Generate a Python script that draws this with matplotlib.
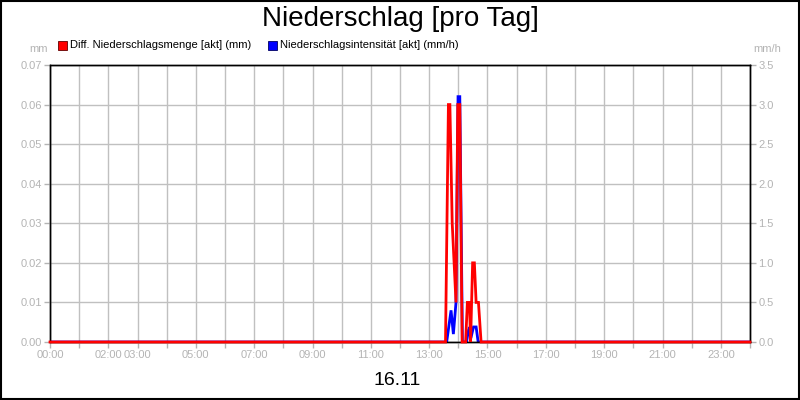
import matplotlib
matplotlib.use("Agg")
import matplotlib.pyplot as plt
from matplotlib.patches import Rectangle
import numpy as np

plt.rcParams['font.family'] = ['Liberation Sans', 'DejaVu Sans']

# Data (time in hours of day)
red_t = [0.0, 13.56, 13.66, 13.71, 13.79, 13.92, 13.98, 14.05, 14.13, 14.25, 14.31, 14.38,
         14.42, 14.49, 14.55, 14.61, 14.69, 14.78, 24.0]
red_v = [0.0, 0.0, 0.06, 0.06, 0.03, 0.01, 0.06, 0.06, 0.0, 0.0, 0.01, 0.01,
         0.0, 0.02, 0.02, 0.01, 0.01, 0.0, 0.0]

blue_t = [0.0, 13.60, 13.75, 13.83, 13.92, 13.99, 14.05, 14.14, 14.28, 14.35, 14.40,
          14.43, 14.52, 14.61, 14.68, 24.0]
blue_v = [0.0, 0.0, 0.4, 0.1, 0.5, 3.1, 3.1, 0.0, 0.0, 0.15, 0.19,
          0.05, 0.19, 0.19, 0.0, 0.0]

tick_hours = list(range(0, 25))
tick_labels = {0: "00:00", 2: "02:00", 3: "03:00", 5: "05:00", 7: "07:00", 9: "09:00",
               11: "11:00", 13: "13:00", 15: "15:00", 17: "17:00", 19: "19:00",
               21: "21:00", 23: "23:00"}
left_ticks = [0.00, 0.01, 0.02, 0.03, 0.04, 0.05, 0.06, 0.07]
right_ticks = [0.0, 0.5, 1.0, 1.5, 2.0, 2.5, 3.0, 3.5]

title = "Niederschlag [pro Tag]"
legend_red = "Diff. Niederschlagsmenge [akt] (mm)"
legend_blue = "Niederschlagsintensität [akt] (mm/h)"
date_label = "16.11"

GRAY = "#b4b4b4"
GRID = "#c0c0c0"

fig = plt.figure(figsize=(8, 4), dpi=100)
fig.patch.set_facecolor("white")
ax = fig.add_axes([0.0625, 0.145, 0.875, 0.6925])
ax2 = ax.twinx()
ax.set_zorder(ax2.get_zorder() + 1)
ax.patch.set_visible(False)

# grid + blue line on lower axes
ax2.set_xlim(0, 24)
ax2.set_ylim(0, 3.5)
ax2.set_yticks(right_ticks)
ax2.grid(True, axis='y', color=GRID, linewidth=1)
ax2.set_axisbelow(True)
for h in tick_hours:
    ax2.axvline(h, color=GRID, linewidth=1, zorder=0.5)
ax2.plot(blue_t, blue_v, color="#0000ff", linewidth=2, solid_joinstyle="miter")

ax.set_xlim(0, 24)
ax.set_ylim(0, 0.07)
ax.set_xticks(tick_hours)
ax.plot(red_t, red_v, color="#ff0000", linewidth=2, solid_joinstyle="miter",
        clip_on=False, zorder=3)

ax.set_xticklabels([tick_labels.get(h, "") for h in tick_hours])
ax.set_yticks(left_ticks)
ax.set_yticklabels(["%.2f" % v for v in left_ticks])
ax2.set_yticklabels(["%.1f" % v for v in right_ticks])

for a in (ax, ax2):
    a.tick_params(axis='both', colors=GRAY, labelcolor=GRAY, labelsize=8, length=4, width=1, pad=2)
    for s in a.spines.values():
        s.set_color("black")
        s.set_linewidth(1)
ax2.tick_params(axis='x', length=0, labelbottom=False)

fig.text(0.5, 0.952, title, ha="center", va="center", fontsize=20, color="black")
fig.text(48 / 800, 0.878, "mm", ha="right", va="center", fontsize=8, color=GRAY)
fig.text(753 / 800, 0.878, "mm/h", ha="left", va="center", fontsize=8, color=GRAY)
fig.text(0.497, 0.048, date_label, ha="center", va="center", fontsize=14, color="black")

# legend
fig.patches.append(Rectangle((58 / 800, 1 - 50 / 400), 9 / 800, 9 / 400, transform=fig.transFigure,
                             facecolor="#ff0000", edgecolor="#600000", linewidth=0.6))
fig.text(70 / 800, 1 - 45.5 / 400, legend_red, ha="left", va="center", fontsize=8, color="black")
fig.patches.append(Rectangle((268 / 800, 1 - 50 / 400), 9 / 800, 9 / 400, transform=fig.transFigure,
                             facecolor="#0000ff", edgecolor="#000060", linewidth=0.6))
fig.text(280 / 800, 1 - 45.5 / 400, legend_blue, ha="left", va="center", fontsize=8, color="black")

# figure border
fig.patches.append(Rectangle((0.001, 0.002), 0.998, 0.996, transform=fig.transFigure,
                             fill=False, edgecolor="black", linewidth=1.5))

fig.savefig("out.png", dpi=100)
